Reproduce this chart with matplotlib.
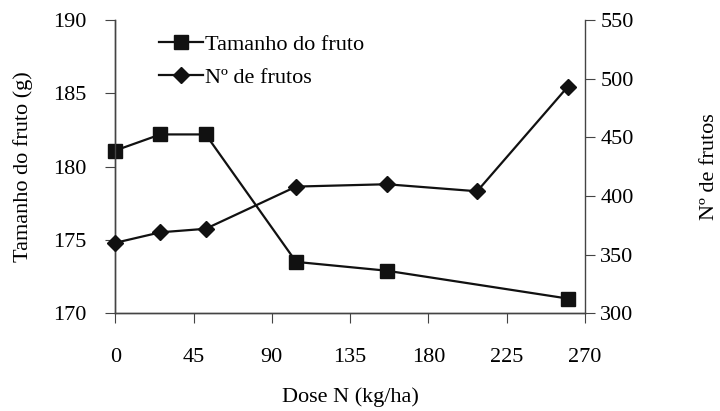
import matplotlib.pyplot as plt
from matplotlib.lines import Line2D

plt.rcParams['font.family'] = ['Liberation Serif', 'DejaVu Serif']
plt.rcParams['font.size'] = 16

# Dose N (kg/ha)
dose_tam = [0, 26, 52, 104, 156, 260]
tamanho = [181.1, 182.2, 182.2, 173.5, 172.9, 171.0]

dose_num = [0, 26, 52, 104, 156, 208, 260]
n_frutos = [360, 369, 372, 408, 410, 404, 493]

xticks = [0, 45, 90, 135, 180, 225, 270]

fig = plt.figure(figsize=(7.2, 4.11), dpi=100)
ax = fig.add_axes([0.160, 0.238, 0.6525, 0.713])
ax2 = ax.twinx()

ax.plot(dose_tam, tamanho, color='#111111', lw=1.6, marker='s', ms=10, clip_on=False, zorder=3)
ax2.plot(dose_num, n_frutos, color='#111111', lw=1.6, marker='D', ms=8, clip_on=False, zorder=3)

ax.set_xlim(0, 270)
ax.set_ylim(170, 190)
ax2.set_ylim(300, 550)
ax.set_xticks(xticks)
ax.set_yticks([170, 175, 180, 185, 190])
ax2.set_yticks([300, 350, 400, 450, 500, 550])

for a in (ax, ax2):
    a.spines['top'].set_visible(False)
    for s in a.spines.values():
        s.set_color('#444444')
        s.set_linewidth(1.0)
ax.spines['right'].set_visible(False)

ax.tick_params(axis='x', direction='out', length=7, pad=18, color='#444444')
ax.tick_params(axis='y', direction='out', length=7, pad=14, color='#444444')
ax2.tick_params(axis='y', direction='out', length=7, pad=4, color='#444444')

ax.set_xlabel('Dose N (kg/ha)', labelpad=15)
ax.set_ylabel('Tamanho do fruto (g)', labelpad=14)
ax2.set_ylabel('Nº de frutos', labelpad=48)

handles = [
    Line2D([], [], color='#111111', lw=1.6, marker='s', ms=10),
    Line2D([], [], color='#111111', lw=1.6, marker='D', ms=8),
]
ax.legend(handles, ['Tamanho do fruto', 'Nº de frutos'], loc='upper left',
          bbox_to_anchor=(0.05, 1.02), frameon=False, handlelength=2.0,
          handletextpad=0.1, labelspacing=0.55)

fig.savefig('out.png', dpi=100)
